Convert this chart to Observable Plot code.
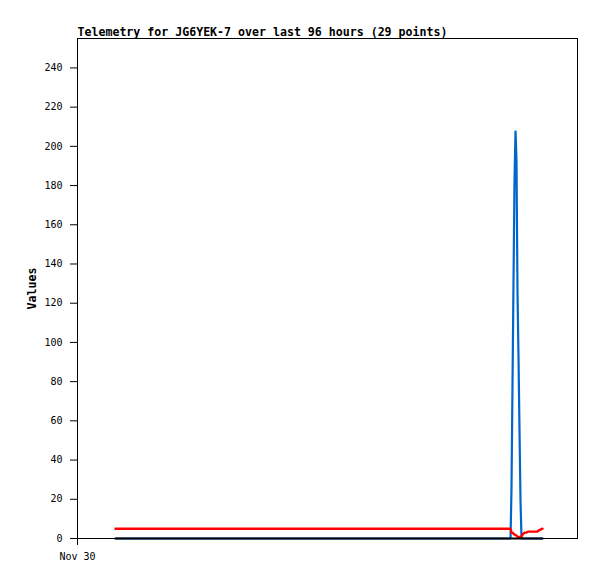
<!DOCTYPE html>
<html>
<head>
<meta charset="utf-8">
<script src="https://cdn.jsdelivr.net/npm/d3@7"></script>
<script src="https://cdn.jsdelivr.net/npm/@observablehq/plot@0.6"></script>
<style>
  html, body { margin: 0; padding: 0; background: white; }
</style>
</head>
<body>
<div id="chart"></div>
<script>
// Chart text
const titleText = "Telemetry for JG6YEK-7 over last 96 hours (29 points)";
const yLabel = "Values";
const xTickLabels = ["Nov 30"];
const yTicks = [0, 20, 40, 60, 80, 100, 120, 140, 160, 180, 200, 220, 240];

// Window: 96 hours starting Nov 30, 00:00
const windowHours = 96;
// Sample times, in hours after Nov 30 00:00 (29 points)
const hours = [7.30, 82.75, 83.14, 83.33, 83.52, 83.71, 83.90, 84.10, 84.29, 84.38,
               84.48, 84.67, 84.86, 85.06, 85.25, 85.44, 85.63, 85.92, 86.21, 86.50,
               86.78, 87.07, 87.36, 87.65, 87.94, 88.22, 88.51, 88.90, 89.28];
// Series values
const blueSeries = [0, 0, 0, 26, 78, 130, 182, 208, 192, 160,
                    126, 93, 56, 19, 0, 0, 0, 0, 0, 0,
                    0, 0, 0, 0, 0, 0, 0, 0, 0];
const redSeries = [5, 5, 5, 3, 3, 2.5, 2, 1.8, 1.5, 1.2,
                   1, 0.8, 0.8, 0.8, 1, 2, 2.5, 3, 3, 3.5,
                   3.5, 3.5, 3.5, 3.5, 3.5, 3.5, 4, 4.5, 5];
const blackSeries = [0, 0, 0, 0, 0, 0, 0, 0, 0, 0,
                     0, 0, 0, 0, 0, 0, 0, 0, 0, 0,
                     0, 0, 0, 0, 0, 0, 0, 0, 0];

const start = new Date(Date.UTC(2023, 10, 30, 0, 0, 0));
const toDate = h => new Date(start.getTime() + h * 3600 * 1000);
const end = toDate(windowHours);

const rows = hours.map((h, i) => ({t: toDate(h), blue: blueSeries[i], red: redSeries[i], black: blackSeries[i]}));

const mono = "'DejaVu Sans Mono', 'Liberation Mono', monospace";

const chart = Plot.plot({
  width: 597,
  height: 579,
  marginLeft: 77,
  marginRight: 20,
  marginTop: 38,
  marginBottom: 41,
  style: {fontFamily: mono, fontSize: "10px", background: "white", color: "black"},
  x: {type: "time", domain: [start, end]},
  y: {domain: [0, 255]},
  marks: [
    Plot.axisY({ticks: yTicks, tickSize: 7, tickPadding: 8, label: null, tickFormat: d => String(d)}),
    Plot.axisX({ticks: [start], tickSize: 7, tickPadding: 7, label: null, tickFormat: (d, i) => xTickLabels[i]}),
    Plot.line(rows, {x: "t", y: "blue", stroke: "#0066cc", strokeWidth: 2.2, strokeLinejoin: "miter"}),
    Plot.line(rows, {x: "t", y: "red", stroke: "#ff0000", strokeWidth: 2.4}),
    Plot.line(rows, {x: "t", y: "black", stroke: "#000000", strokeWidth: 2}),
    Plot.frame({stroke: "black", strokeWidth: 1}),
    Plot.text([titleText], {frameAnchor: "top-left", textAnchor: "start", lineAnchor: "bottom", dy: -3,
      fontWeight: "bold", fontSize: 11.6, fontFamily: mono}),
    Plot.text([yLabel], {frameAnchor: "left", dx: -45, rotate: -90, textAnchor: "middle",
      fontWeight: "bold", fontSize: 11.6, fontFamily: mono})
  ]
});
document.getElementById("chart").appendChild(chart);
</script>
</body>
</html>
